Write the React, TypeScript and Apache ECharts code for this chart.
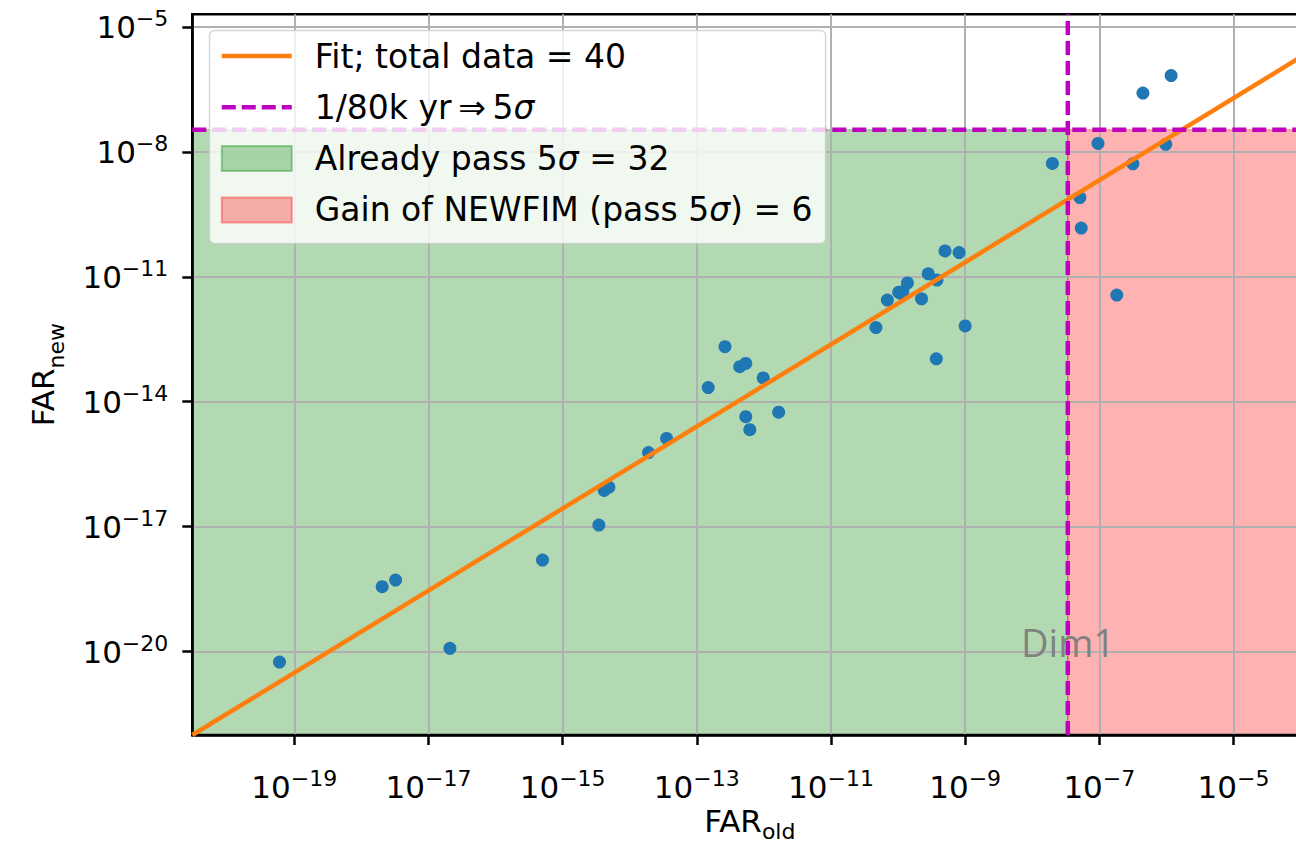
import React, { useEffect, useRef } from "react";
import * as echarts from "echarts";

// log10(FAR_old) and log10(FAR_new) of the 40 events
const farOldLog = [
  -9.3, -9.09, -9.55, -9.42, -9.86, -9.99, -9.93, -10.16, -9.65, -10.33, -9.0, -9.43,
  -12.58, -12.36, -12.27, -12.01, -12.83, -11.78, -12.27, -12.21, -13.45, -13.72,
  -14.38, -14.31, -14.46, -15.3, -17.69, -17.49, -16.68, -19.22, -7.7, -9.96,
  -7.02, -6.5, -6.01, -7.29, -7.27, -6.74, -6.35, -5.93,
];
const farNewLog = [
  -10.38, -10.42, -10.93, -11.08, -11.15, -11.37, -11.36, -11.56, -11.53, -12.22, -12.18, -12.97,
  -12.68, -13.16, -13.08, -13.43, -13.66, -14.25, -14.36, -14.67, -14.88, -15.22,
  -16.13, -16.05, -16.96, -17.8, -18.44, -18.28, -19.92, -20.25, -8.28, -11.4,
  -7.8, -8.29, -7.82, -9.1, -9.83, -11.44, -6.59, -6.17,
];

const xTickExps = [-19, -17, -15, -13, -11, -9, -7, -5];
const yTickExps = [-20, -17, -14, -11, -8, -5];
const xRange = [-20.52, -3.9];
const yRange = [-22.0, -4.7];
const thresholdLog = -7.47;
const fitStart = [-20.52, -22.0];
const fitEnd = [-3.9, -5.63];

const fitName = "Fit; total data = 40";
const thrName = "1/80k yr\u2009⇒\u20095σ";
const greenName = "Already pass 5σ = 32";
const redName = "Gain of NEWFIM (pass 5σ) = 6";

const FONT = "DejaVu Sans";

const fmtLegend = (name: string) => {
  const parts = name.split("σ");
  let out = "";
  parts.forEach((p, i) => {
    if (p) out += `{${i === 0 ? "a" : "t"}|${p}}`;
    if (i < parts.length - 1) out += "{i|σ}";
  });
  return out;
};

const expLabel = (v: number) => `{b|10}{s|\u2212${Math.abs(Math.round(v))}}`;

const tickRich = {
  b: { fontFamily: FONT, fontSize: 31, lineHeight: 36, color: "#000" },
  s: { fontFamily: FONT, fontSize: 22, lineHeight: 24, color: "#000", padding: [0, 0, 17, 0] },
};
const xNameRich = {
  b: { fontFamily: FONT, fontSize: 31, lineHeight: 36, color: "#000" },
  sub: { fontFamily: FONT, fontSize: 22, lineHeight: 24, color: "#000", padding: [20, 0, 0, 0] },
};
const yNameRich = {
  b: { fontFamily: FONT, fontSize: 31, lineHeight: 36, color: "#000" },
  sub: { fontFamily: FONT, fontSize: 22, lineHeight: 24, color: "#000", padding: [26, 0, 0, 0] },
};

const hiddenSymbol = { color: "rgba(0,0,0,0)", borderColor: "rgba(0,0,0,0)", borderWidth: 0, opacity: 0 };

export default function App() {
  const ref = useRef<HTMLDivElement>(null);
  useEffect(() => {
    if (!ref.current) return;
    const chart = echarts.init(ref.current, null, { renderer: "svg" });
    const points = farOldLog.map((x, i) => [x, farNewLog[i]]);
    const fillRender = (color: string, stroke: string) => (params: any, api: any) => {
      const p0 = api.coord([api.value(0), api.value(1)]);
      const p1 = api.coord([api.value(2), api.value(3)]);
      return {
        type: "rect",
        shape: { x: p0[0], y: p1[1], width: p1[0] - p0[0], height: p0[1] - p1[1] },
        style: { fill: color, stroke, lineWidth: 1.5 },
      };
    };
    const option: any = {
      animation: false,
      textStyle: { fontFamily: FONT },
      grid: {
        left: 192.3,
        top: 14.3,
        width: 1115,
        height: 720.7,
        show: true,
        borderColor: "#000",
        borderWidth: 2.5,
        backgroundColor: "transparent",
        containLabel: false,
        outerBoundsMode: "none",
      },
      xAxis: {
        type: "value",
        min: xRange[0],
        max: xRange[1],
        axisLine: { show: true, onZero: false, lineStyle: { color: "#000", width: 2.5 } },
        axisTick: { show: true, customValues: xTickExps, length: 10, lineStyle: { color: "#000", width: 2.5 } },
        axisLabel: { customValues: xTickExps, formatter: expLabel, rich: tickRich, margin: 34 },
        splitLine: { show: true, lineStyle: { color: "#b0b0b0", width: 2 } },
        name: "{b|FAR}{sub|old}",
        nameLocation: "middle",
        nameGap: 60,
        nameMoveOverlap: false,
        nameTextStyle: { rich: xNameRich, padding: [8, 0, 0, 0] },
      },
      yAxis: {
        type: "value",
        min: yRange[0],
        max: yRange[1],
        axisLine: { show: true, onZero: false, lineStyle: { color: "#000", width: 2.5 } },
        axisTick: { show: true, customValues: yTickExps, length: 10, lineStyle: { color: "#000", width: 2.5 } },
        axisLabel: { customValues: yTickExps, formatter: expLabel, rich: tickRich, margin: 24 },
        splitLine: { show: true, lineStyle: { color: "#b0b0b0", width: 2 } },
        name: "{b|FAR}{sub|new}",
        nameLocation: "middle",
        nameGap: 131,
        nameMoveOverlap: false,
        nameTextStyle: { rich: yNameRich },
      },
      legend: {
        orient: "vertical",
        left: 209.5,
        top: 30.5,
        itemWidth: 70,
        itemHeight: 25,
        itemGap: 18.3,
        padding: [9, 13, 17, 10],
        backgroundColor: "rgba(255,255,255,0.8)",
        borderColor: "rgba(204,204,204,0.8)",
        borderWidth: 1.5,
        borderRadius: 5,
        z: 10,
        formatter: fmtLegend,
        textStyle: {
          fontFamily: FONT,
          fontSize: 33,
          color: "#000",
          rich: {
            a: { fontFamily: FONT, fontSize: 33, lineHeight: 34, color: "#000", padding: [0, 0, 0, 18] },
            t: { fontFamily: FONT, fontSize: 33, lineHeight: 34, color: "#000" },
            i: { fontFamily: FONT, fontSize: 33, lineHeight: 34, color: "#000", fontStyle: "italic" },
          },
        },
        data: [
          { name: fitName, itemStyle: hiddenSymbol, lineStyle: { color: "#ff7f0e", width: 4.5 } },
          { name: thrName, itemStyle: hiddenSymbol, lineStyle: { color: "#bf00bf", width: 4.5, type: [14, 6] } },
          {
            name: greenName,
            icon: "rect",
            itemStyle: { color: "rgba(0,128,0,0.3)", borderColor: "rgba(0,128,0,0.35)", borderWidth: 2 },
          },
          {
            name: redName,
            icon: "rect",
            itemStyle: { color: "rgba(255,0,0,0.3)", borderColor: "rgba(255,0,0,0.35)", borderWidth: 2 },
          },
        ],
      },
      series: [
        {
          type: "custom",
          name: greenName,
          z: -1,
          clip: true,
          itemStyle: { color: "rgba(0,128,0,0.3)" },
          renderItem: fillRender("rgba(0,128,0,0.3)", "rgba(0,128,0,0.3)"),
          data: [[xRange[0], yRange[0], thresholdLog, thresholdLog]],
        },
        {
          type: "custom",
          name: redName,
          z: -1,
          clip: true,
          itemStyle: { color: "rgba(255,0,0,0.3)" },
          renderItem: fillRender("rgba(255,0,0,0.3)", "rgba(255,0,0,0.3)"),
          data: [[thresholdLog, yRange[0], xRange[1], thresholdLog]],
        },
        {
          type: "scatter",
          symbol: "circle",
          symbolSize: 13,
          itemStyle: { color: "#1f77b4", opacity: 1 },
          z: 3,
          data: points,
        },
        {
          type: "line",
          name: fitName,
          symbol: "none",
          showSymbol: false,
          z: 4,
          itemStyle: { color: "#ff7f0e" },
          lineStyle: { color: "#ff7f0e", width: 4.5 },
          data: [fitStart, fitEnd],
        },
        {
          type: "line",
          name: thrName,
          symbol: "none",
          showSymbol: false,
          z: 5,
          itemStyle: { color: "#bf00bf" },
          lineStyle: { color: "#bf00bf", width: 4.5, type: [14, 6] },
          data: [
            [xRange[0], thresholdLog],
            [xRange[1], thresholdLog],
          ],
        },
        {
          type: "line",
          name: thrName,
          symbol: "none",
          showSymbol: false,
          z: 5,
          itemStyle: { color: "#bf00bf" },
          lineStyle: { color: "#bf00bf", width: 4.5, type: [14, 6] },
          data: [
            [thresholdLog, yRange[0]],
            [thresholdLog, yRange[1]],
          ],
        },
      ],
      graphic: [
        {
          type: "text",
          x: 1021,
          y: 642,
          z: 20,
          style: {
            text: "Dim1",
            font: "38px 'Open Sans'",
            fill: "rgba(125,125,125,0.95)",
            textAlign: "left",
            textVerticalAlign: "middle",
          },
        },
      ],
    };
    chart.setOption(option);
    return () => chart.dispose();
  }, []);
  return (
    <div
      style={{
        position: "fixed",
        left: 0,
        top: 0,
        width: 1296,
        height: 846,
        overflow: "hidden",
        background: "#fff",
      }}
    >
      <div ref={ref} style={{ width: 1340, height: 900 }} />
    </div>
  );
}
